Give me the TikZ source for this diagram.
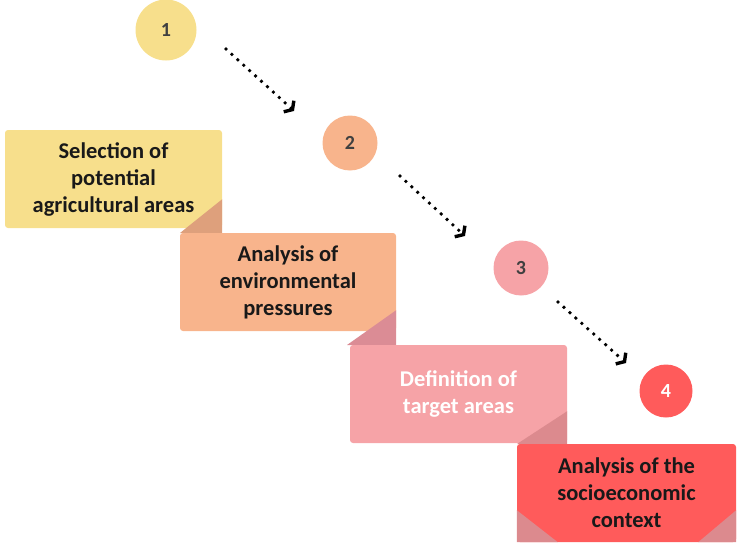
\documentclass[tikz,border=0pt]{standalone}
\usepackage{fontspec}
\setmainfont{Carlito}
\usepackage{xcolor}
\usepackage{tikz}
\usetikzlibrary{shapes,arrows,positioning,calc,arrows.meta}
\definecolor{stepyellow}{HTML}{F7DF8C}
\definecolor{steporange}{HTML}{F8B48C}
\definecolor{steppink}{HTML}{F6A3A7}
\definecolor{stepred}{HTML}{FF5B5B}
\definecolor{foldone}{HTML}{DEA07C}
\definecolor{foldtwo}{HTML}{DB8C95}
\definecolor{foldthree}{HTML}{DC8A8E}
\definecolor{numgray}{HTML}{404040}
\tikzstyle{arrow} = [line width=3.8pt, dash pattern=on 0pt off 8pt, line cap=round, -{Straight Barb[length=5pt, width=15pt, line width=3.4pt]}]
\tikzstyle{stepbox} = [rectangle, rounded corners=3pt, minimum width=217pt, minimum height=98pt, inner sep=0pt, align=center, font=\fontsize{22.5}{27}\selectfont\bfseries]
\tikzstyle{stepnum} = [circle, inner sep=0pt, font=\fontsize{20}{22}\selectfont\bfseries]

\begin{document}
\begin{tikzpicture}[x=1pt, y=-1pt]
    \useasboundingbox (0,0) rectangle (740,546);

    % Step 1
    \node[stepnum, fill=stepyellow, minimum size=61pt, text=numgray] (n1) at (166,30) {1};
    \node[stepbox, fill=stepyellow, text=black!90] (b1) at (113.5,179) {Selection of\\potential\\agricultural areas};
    \fill[foldone] ($(b1.south east)+(0,-29)$) -- (180,233) -- (b1.south east |- 0,233) -- cycle;

    % Step 2
    \node[stepnum, fill=steporange, minimum size=55pt, text=numgray] (n2) at (350,143) {2};
    \node[stepbox, fill=steporange, minimum width=216pt, text=black!90] (b2) at (288,282) {Analysis of\\environmental\\pressures};
    \fill[foldtwo] ($(b2.south east)+(0,-21)$) -- (347,345) -- (b2.south east |- 0,345) -- cycle;

    % Step 3
    \node[stepnum, fill=steppink, minimum size=55pt, text=numgray] (n3) at (521,268) {3};
    \node[stepbox, fill=steppink, text=white] (b3) at (458.5,394) {Definition of\\target areas};
    \fill[foldthree] ($(b3.south east)+(0,-32)$) -- (517,444) -- (b3.south east |- 0,444) -- cycle;

    % Step 4
    \node[stepnum, fill=stepred, minimum size=53pt, text=white] (n4) at (666,391) {4};
    \node[stepbox, fill=stepred, minimum width=219pt, text=black!90] (b4) at (626.5,493) {Analysis of the\\socioeconomic\\context};
    \fill[foldthree] ($(b4.south west)+(0,-32)$) -- (b4.south west) -- ($(b4.south west)+(41,0)$) -- cycle;
    \fill[foldthree] ($(b4.south east)+(0,-32)$) -- (b4.south east) -- ($(b4.south east)+(-38,0)$) -- cycle;

    % Arrows
    \coordinate (s1) at (226,49);
    \coordinate (e1) at (294,111);
    \coordinate (s2) at (400,176);
    \coordinate (e2) at (465,236);
    \coordinate (s3) at (558,302);
    \coordinate (e3) at (626,363);
    \draw[arrow] (s1) -- (e1);
    \draw[arrow] (s2) -- (e2);
    \draw[arrow] (s3) -- (e3);
\end{tikzpicture}
\end{document}
